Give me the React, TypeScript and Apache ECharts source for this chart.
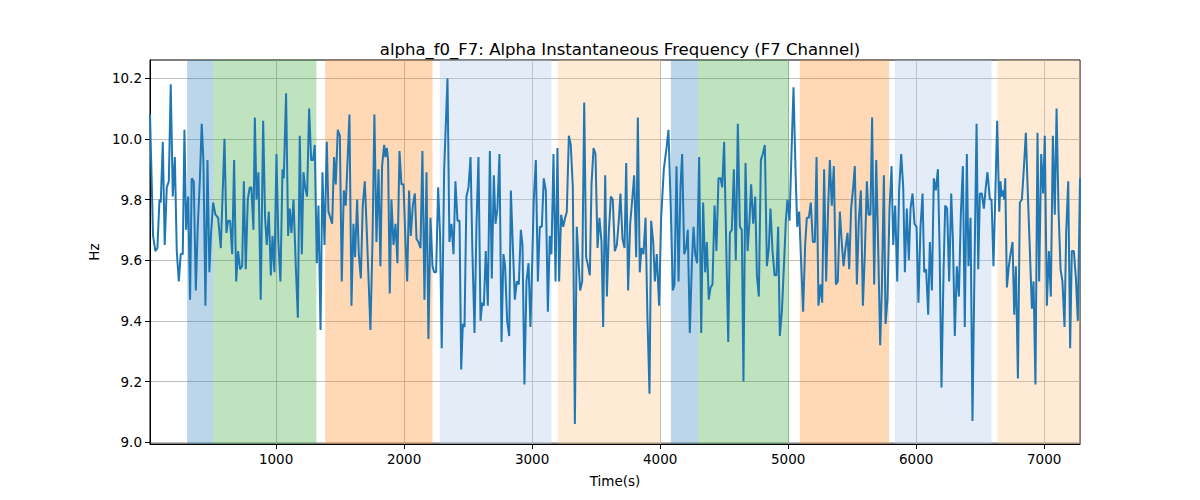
import React, { useEffect, useRef } from "react";
import * as echarts from "echarts";

const TITLE = "alpha_f0_F7: Alpha Instantaneous Frequency (F7 Channel)";
const X_NAME = "Time(s)";
const Y_NAME = "Hz";

const xTicks = [1000, 2000, 3000, 4000, 5000, 6000, 7000];
const yTicks = [9.0, 9.2, 9.4, 9.6, 9.8, 10.0, 10.2];

const times = [
  15, 39, 57, 73, 89, 99, 115, 130, 146, 162, 177, 193, 209, 224, 240, 255, 271, 284, 297, 313, 328, 341, 357, 373, 388, 404, 419, 432, 448, 464, 479, 492, 508, 526, 547, 568, 597, 612, 625, 641, 657, 672, 688, 703, 719, 735, 748, 763, 779, 794, 807, 823,
  834, 847, 862, 880, 899, 914, 927, 943, 959, 972, 987, 1003, 1018, 1034, 1050, 1060, 1078, 1094, 1107, 1120, 1136, 1154, 1170, 1185, 1201, 1214, 1227, 1242, 1258, 1274, 1289, 1302, 1318, 1331, 1347, 1362, 1378, 1396, 1409, 1424, 1438, 1453, 1466, 1482, 1498, 1513, 1529, 1544, 1573, 1589, 1604, 1617, 1633,
  1646, 1662, 1677, 1693, 1709, 1737, 1753, 1768, 1784, 1800, 1815, 1828, 1844, 1854, 1865, 1875, 1888, 1901, 1917, 1933, 1948, 1964, 1979, 1995, 2011, 2024, 2039, 2052, 2068, 2084, 2097, 2112, 2128, 2143, 2159, 2175, 2190, 2206, 2222, 2235, 2250, 2266, 2281, 2294, 2313, 2339, 2354, 2370, 2386, 2401, 2417, 2433, 2446, 2459,
  2472, 2487, 2503, 2519, 2534, 2550, 2565, 2581, 2597, 2610, 2623, 2638, 2654, 2670, 2685, 2701, 2714, 2729, 2745, 2761, 2776, 2789, 2805, 2821, 2834, 2849, 2865, 2880, 2896, 2912, 2925, 2940, 2956, 2972, 2987, 3000, 3013, 3029, 3045, 3060, 3076, 3091, 3107, 3123, 3138, 3151, 3167, 3183, 3198, 3211, 3227, 3243, 3258, 3271, 3287,
  3302, 3318, 3334, 3349, 3365, 3375, 3391, 3407, 3422, 3438, 3451, 3464, 3480, 3495, 3511, 3526, 3542, 3555, 3571, 3584, 3599, 3615, 3630, 3646, 3662, 3677, 3690, 3706, 3722, 3735, 3750, 3766, 3782, 3797, 3813, 3826, 3841, 3854, 3870, 3886, 3901, 3917, 3930, 3946, 3959, 3974, 3992, 4008, 4029, 4050, 4065, 4084, 4099,
  4112, 4128, 4144, 4159, 4172, 4188, 4203, 4216, 4232, 4248, 4261, 4274, 4289, 4305, 4321, 4336, 4352, 4365, 4380, 4394, 4409, 4425, 4440, 4456, 4472, 4485, 4500, 4516, 4532, 4545, 4560, 4576, 4591, 4607, 4623, 4638, 4651, 4667, 4683, 4698, 4711, 4727, 4743, 4756, 4771, 4787, 4802, 4818, 4834, 4849, 4862, 4878, 4894, 4909, 4922, 4935,
  4951, 4966, 4982, 4995, 5011, 5026, 5042, 5058, 5071, 5086, 5102, 5117, 5133, 5146, 5162, 5177, 5193, 5209, 5222, 5237, 5253, 5266, 5281, 5297, 5313, 5326, 5341, 5357, 5373, 5388, 5404, 5417, 5433, 5448, 5464, 5477, 5492, 5508, 5521, 5537, 5552, 5568, 5584, 5599, 5615, 5628, 5643, 5656, 5672, 5688, 5703, 5719, 5732, 5748,
  5761, 5776, 5792, 5808, 5821, 5836, 5852, 5867, 5883, 5899, 5912, 5927, 5943, 5956, 5972, 5987, 6003, 6018, 6034, 6050, 6063, 6078, 6094, 6107, 6123, 6138, 6154, 6170, 6183, 6198, 6214, 6227, 6242, 6258, 6274, 6287, 6302, 6318, 6334, 6349, 6365, 6380, 6396, 6409, 6425, 6440, 6456, 6472, 6485, 6498, 6513, 6529, 6544, 6557, 6576,
  6589, 6604, 6620, 6633, 6649, 6659, 6667, 6680, 6688, 6696, 6709, 6724, 6737, 6753, 6766, 6779, 6795, 6810, 6826, 6841, 6857, 6870, 6886, 6904, 6917, 6932, 6948, 6961, 6977, 6992, 7005, 7021, 7037, 7052, 7068, 7083, 7097, 7112, 7128, 7143, 7159, 7172, 7188, 7203, 7216, 7232, 7248, 7263, 7280,
];

const values = [
  10.08, 9.68, 9.63, 9.64, 9.8, 9.79, 9.99, 9.65, 9.84, 9.86, 10.18, 9.81, 9.94, 9.63, 9.53, 9.62, 9.62, 10.03, 9.7, 9.81, 9.47, 9.87, 9.86, 9.5, 9.71, 9.86, 10.05, 9.93, 9.45, 9.93, 9.56, 9.69, 9.79, 9.75, 9.74, 9.64, 10.0, 9.69, 9.73, 9.73, 9.62, 9.93, 9.53, 9.63, 9.57, 9.58, 9.86, 9.57, 9.8, 9.84, 9.84, 9.7,
  10.07, 9.8, 9.89, 9.47, 10.06, 9.74, 9.65, 9.76, 9.55, 9.68, 9.56, 9.95, 9.66, 9.53, 9.9, 9.87, 10.15, 9.68, 9.77, 9.69, 9.8, 9.58, 9.41, 10.01, 9.62, 9.89, 9.84, 9.81, 10.1, 9.93, 9.93, 9.98, 9.59, 9.78, 9.37, 9.89, 9.65, 9.99, 9.76, 9.74, 9.72, 9.94, 9.85, 10.03, 10.01, 9.53, 9.83, 9.78, 10.08, 9.45, 9.72, 9.61, 9.8,
  9.62, 9.54, 9.78, 9.86, 9.69, 9.37, 9.66, 10.08, 9.66, 9.9, 9.58, 9.91, 9.98, 9.94, 9.97, 9.93, 9.49, 9.8, 9.65, 9.72, 9.59, 9.96, 9.85, 9.85, 9.66, 9.53, 9.83, 9.68, 9.78, 9.82, 9.67, 9.66, 9.64, 9.96, 9.47, 9.89, 9.34, 9.74, 9.58, 9.56, 9.56, 9.84, 9.68, 9.31, 9.9, 10.2, 9.66, 9.72, 9.62, 9.86, 9.73, 9.73, 9.24, 9.39,
  9.38, 9.81, 9.84, 9.94, 9.62, 9.36, 9.71, 9.94, 9.4, 9.46, 9.45, 9.63, 9.45, 9.96, 9.54, 9.88, 9.72, 9.77, 9.95, 9.33, 9.62, 9.58, 9.4, 9.35, 9.83, 9.65, 9.47, 9.53, 9.52, 9.7, 9.65, 9.19, 9.53, 9.59, 9.38, 9.58, 9.8, 9.93, 9.53, 9.71, 9.71, 9.87, 9.83, 9.43, 9.68, 9.62, 9.95, 9.53, 9.97, 9.53, 9.75, 9.71, 9.74, 9.76, 10.01,
  9.98, 9.84, 9.06, 9.71, 9.58, 9.5, 9.53, 10.12, 9.61, 9.58, 9.55, 9.85, 9.97, 9.95, 9.64, 9.74, 9.66, 9.38, 9.88, 9.48, 9.69, 9.81, 9.8, 9.63, 9.65, 9.73, 9.82, 9.67, 9.64, 9.92, 9.5, 9.72, 9.8, 9.88, 9.61, 10.07, 9.56, 9.64, 9.62, 9.74, 9.41, 9.16, 9.73, 9.66, 9.53, 9.62, 9.45, 9.74, 9.9, 9.97, 10.03, 9.76, 9.5,
  9.52, 9.91, 9.53, 9.84, 9.95, 9.62, 9.64, 9.7, 9.36, 9.59, 9.71, 9.62, 9.59, 9.94, 9.36, 9.79, 9.56, 9.66, 9.47, 9.51, 9.52, 9.78, 9.63, 9.87, 9.87, 9.84, 9.99, 9.66, 9.33, 9.69, 9.7, 9.9, 9.6, 10.05, 9.71, 9.7, 9.2, 9.92, 9.63, 9.73, 9.85, 9.72, 9.81, 9.55, 9.48, 9.93, 9.95, 9.98, 9.58, 9.64, 9.77, 9.63, 9.55, 9.55, 9.71, 9.35,
  9.43, 9.57, 9.73, 9.8, 9.73, 9.95, 10.17, 9.89, 9.71, 9.76, 9.59, 9.43, 9.65, 9.74, 9.74, 9.79, 9.66, 9.66, 9.94, 9.45, 9.52, 9.46, 9.9, 9.53, 9.78, 9.93, 9.78, 9.91, 9.52, 9.53, 9.76, 9.67, 9.58, 9.64, 9.69, 9.57, 9.77, 9.84, 9.91, 9.52, 9.73, 9.83, 9.45, 9.62, 9.86, 9.75, 9.75, 10.07, 9.52, 9.93, 9.65, 9.32, 9.5, 9.88,
  9.39, 9.47, 9.77, 9.91, 9.65, 9.78, 9.53, 9.83, 9.95, 9.84, 9.56, 9.77, 9.6, 9.77, 9.82, 9.72, 9.71, 9.46, 9.71, 9.82, 9.56, 9.57, 9.42, 9.66, 9.5, 9.87, 9.83, 9.9, 9.64, 9.18, 9.56, 9.78, 9.77, 9.53, 9.82, 9.67, 9.35, 9.58, 9.48, 9.75, 9.91, 9.38, 9.95, 9.58, 9.74, 9.07, 9.58, 10.05, 9.57, 9.82, 9.82, 9.77, 9.84, 9.89, 9.8,
  9.8, 9.58, 9.84, 10.06, 9.76, 9.86, 9.81, 9.83, 9.8, 9.87, 9.51, 9.58, 9.62, 9.66, 9.42, 9.58, 9.21, 9.79, 9.8, 9.9, 10.02, 9.85, 9.66, 9.44, 9.53, 9.19, 10.02, 9.53, 9.95, 9.82, 10.01, 9.45, 9.63, 9.48, 10.01, 9.75, 10.1, 9.77, 9.57, 9.53, 9.38, 9.69, 9.86, 9.31, 9.63, 9.63, 9.54, 9.4, 9.87,
];

// shaded state segments
const bandStart = [305, 513, 1383, 2279, 3201, 4084, 4297, 5091, 5834, 6636];
const bandEnd = [513, 1315, 2222, 3151, 4003, 4297, 5008, 5789, 6589, 7280];
const bandKind = ["A", "B", "C", "D", "E", "A", "B", "C", "D", "E"];

const X_MIN = 15;
const X_MAX = 7280;
const Y_MIN = 8.994;
const Y_MAX = 10.26;

const kindColor: Record<string, string> = {
  A: "rgba(31,119,180,0.3)",
  B: "rgba(44,160,44,0.3)",
  C: "rgba(255,127,14,0.3)",
  D: "rgba(174,199,232,0.33)",
  E: "rgba(255,187,120,0.3)",
};

const FONT = "DejaVu Sans";

export default function App() {
  const ref = useRef<HTMLDivElement>(null);
  useEffect(() => {
    if (!ref.current) return;
    const chart = echarts.init(ref.current, undefined, { renderer: "svg" });
    const data = times.map((t, i) => [t, values[i]]);
    const areas = bandStart.map((s, i) => [
      { xAxis: s, itemStyle: { color: kindColor[bandKind[i]] } },
      { xAxis: bandEnd[i] },
    ]);
    chart.setOption({
      animation: false,
      backgroundColor: "#ffffff",
      title: {
        text: TITLE,
        left: 615,
        top: 36,
        textAlign: "center",
        textStyle: { fontFamily: FONT, fontSize: 16.5, fontWeight: "normal", color: "#000" },
      },
      grid: {
        left: 150,
        right: 120,
        top: 60,
        bottom: 56,
        show: true,
        borderColor: "#000",
        borderWidth: 1,
        backgroundColor: "transparent",
      },
      xAxis: {
        type: "value",
        min: X_MIN,
        max: X_MAX,
        name: X_NAME,
        nameLocation: "middle",
        nameGap: 30,
        nameTextStyle: { fontFamily: FONT, fontSize: 13.5, color: "#000" },
        axisLine: { show: true, onZero: false, lineStyle: { color: "#000", width: 1 } },
        axisTick: { show: true, length: 5, lineStyle: { color: "#000" }, customValues: xTicks },
        axisLabel: {
          fontFamily: FONT,
          fontSize: 13.5,
          color: "#000",
          margin: 8,
          customValues: xTicks,
          formatter: (v: number) => String(v),
        },
        splitLine: { show: true, lineStyle: { color: "#b0b0b0", width: 0.8 } },
      },
      yAxis: {
        type: "value",
        min: Y_MIN,
        max: Y_MAX,
        name: Y_NAME,
        nameLocation: "middle",
        nameGap: 46,
        nameRotate: 90,
        nameTextStyle: { fontFamily: FONT, fontSize: 13.5, color: "#000" },
        axisLine: { show: true, onZero: false, lineStyle: { color: "#000", width: 1 } },
        axisTick: { show: true, length: 5, lineStyle: { color: "#000" }, customValues: yTicks },
        axisLabel: {
          fontFamily: FONT,
          fontSize: 13.5,
          color: "#000",
          margin: 8,
          customValues: yTicks,
          formatter: (v: number) => v.toFixed(1),
        },
        splitLine: { show: true, lineStyle: { color: "#b0b0b0", width: 0.8 } },
      },
      series: [
        {
          type: "line",
          data,
          showSymbol: false,
          symbol: "none",
          lineStyle: { color: "#1f77b4", width: 2 },
          itemStyle: { color: "#1f77b4" },
          z: 3,
          markArea: {
            silent: true,
            data: areas,
          },
        },
      ],
    });
    return () => chart.dispose();
  }, []);
  return (
    <div
      ref={ref}
      style={{ position: "fixed", left: 0, top: 0, width: 1200, height: 500, background: "#fff" }}
    />
  );
}
